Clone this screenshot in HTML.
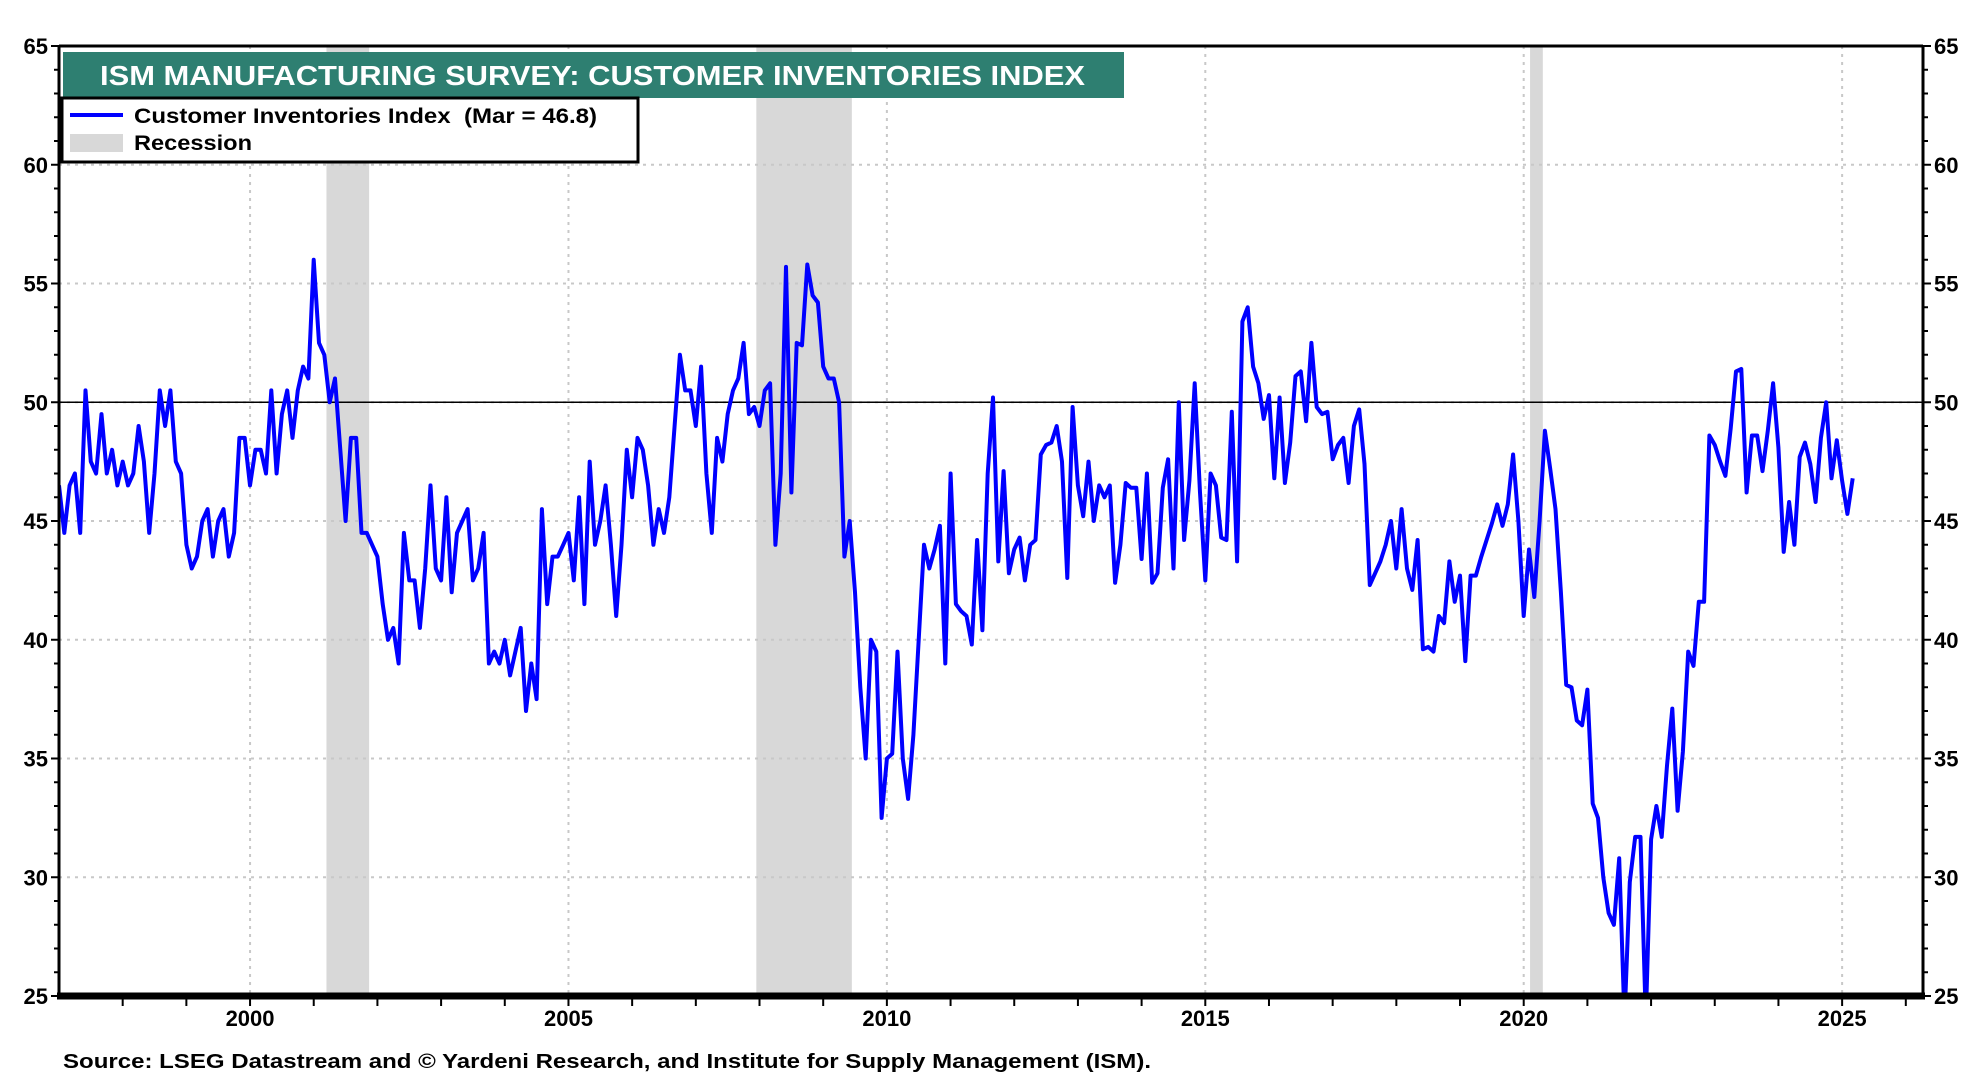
<!DOCTYPE html>
<html><head><meta charset="utf-8"><style>
html,body{margin:0;padding:0;background:#fff;}
svg{display:block;font-family:"Liberation Sans",Arial,sans-serif;}
</style></head><body>
<svg id="chart" width="1980" height="1080" viewBox="0 0 1980 1080" xmlns="http://www.w3.org/2000/svg">
<defs><clipPath id="plotclip"><rect x="59" y="46" width="1864" height="950"/></clipPath></defs>
<g id="recessions"></g>
<g id="grid"></g>
<line id="ref50" x1="59" x2="1923" stroke="#000" stroke-width="1.5"/>
<g id="series" clip-path="url(#plotclip)"></g>
<g id="axes"></g>
<g>
<rect x="63" y="52" width="1061" height="46" fill="#2e7f71"/>
<text x="100" y="85" fill="#fff" font-size="28" font-weight="bold" textLength="985" lengthAdjust="spacingAndGlyphs">ISM MANUFACTURING SURVEY: CUSTOMER INVENTORIES INDEX</text>
</g>
<g>
<rect x="62" y="98" width="576" height="64" fill="#fff" stroke="#000" stroke-width="3"/>
<g>
<line x1="70" x2="123" y1="115" y2="115" stroke="#0000ff" stroke-width="4"/>
<text x="134" y="123" font-size="21" font-weight="bold" textLength="463" lengthAdjust="spacingAndGlyphs">Customer Inventories Index &#160;(Mar = 46.8)</text>
</g>
<g>
<rect x="70" y="134" width="53" height="18" fill="#d8d8d8"/>
<text x="134" y="150" font-size="21" font-weight="bold" textLength="118" lengthAdjust="spacingAndGlyphs">Recession</text>
</g>
</g>
<text x="63" y="1068" font-size="20" font-weight="bold" textLength="1088" lengthAdjust="spacingAndGlyphs">Source: LSEG Datastream and © Yardeni Research, and Institute for Supply Management (ISM).</text>
</svg>
<script>
const years=[1997,1998,1999,2000,2001,2002,2003,2004,2005,2006,2007,2008,2009,2010,2011,2012,2013,2014,2015,2016,2017,2018,2019,2020,2021,2022,2023,2024,2025];
const v1997=[46.5,44.5,46.5,47,44.5,50.5,47.5,47,49.5,47,48,46.5];
const v1998=[47.5,46.5,47,49,47.5,44.5,47,50.5,49,50.5,47.5,47];
const v1999=[44,43,43.5,45,45.5,43.5,45,45.5,43.5,44.5,48.5,48.5];
const v2000=[46.5,48,48,47,50.5,47,49.5,50.5,48.5,50.5,51.5,51];
const v2001=[56,52.5,52,50,51,48,45,48.5,48.5,44.5,44.5,44];
const v2002=[43.5,41.5,40,40.5,39,44.5,42.5,42.5,40.5,43,46.5,43];
const v2003=[42.5,46,42,44.5,45,45.5,42.5,43,44.5,39,39.5,39];
const v2004=[40,38.5,39.5,40.5,37,39,37.5,45.5,41.5,43.5,43.5,44];
const v2005=[44.5,42.5,46,41.5,47.5,44,45,46.5,44,41,44,48];
const v2006=[46,48.5,48,46.5,44,45.5,44.5,46,49,52,50.5,50.5];
const v2007=[49,51.5,47,44.5,48.5,47.5,49.5,50.5,51,52.5,49.5,49.8];
const v2008=[49,50.5,50.8,44,47,55.7,46.2,52.5,52.4,55.8,54.5,54.2];
const v2009=[51.5,51,51,50,43.5,45,42,38,35,40,39.5,32.5];
const v2010=[35,35.2,39.5,35,33.3,36,40,44,43,43.8,44.8,39];
const v2011=[47,41.5,41.2,41,39.8,44.2,40.4,47,50.2,43.3,47.1,42.8];
const v2012=[43.8,44.3,42.5,44,44.2,47.8,48.2,48.3,49,47.5,42.6,49.8];
const v2013=[46.5,45.2,47.5,45,46.5,46,46.5,42.4,44,46.6,46.4,46.4];
const v2014=[43.4,47,42.4,42.8,46.4,47.6,43,50,44.2,46.7,50.8,46.2];
const v2015=[42.5,47,46.5,44.3,44.2,49.6,43.3,53.4,54,51.5,50.8,49.3];
const v2016=[50.3,46.8,50.2,46.6,48.3,51.1,51.3,49.2,52.5,49.8,49.5,49.6];
const v2017=[47.6,48.2,48.5,46.6,49,49.7,47.4,42.3,42.8,43.3,44,45];
const v2018=[43,45.5,43,42.1,44.2,39.6,39.7,39.5,41,40.7,43.3,41.6];
const v2019=[42.7,39.1,42.7,42.7,43.5,44.2,44.9,45.7,44.8,45.7,47.8,45];
const v2020=[41,43.8,41.8,45,48.8,47.2,45.5,42,38.1,38,36.6,36.4];
const v2021=[37.9,33.1,32.5,30,28.5,28,30.8,24,29.8,31.7,31.7,24];
const v2022=[31.6,33,31.7,34.7,37.1,32.8,35.3,39.5,38.9,41.6,41.6,48.6];
const v2023=[48.2,47.5,46.9,48.9,51.3,51.4,46.2,48.6,48.6,47.1,48.8,50.8];
const v2024=[48.1,43.7,45.8,44,47.7,48.3,47.4,45.8,48.5,50,46.8,48.4];
const v2025=[46.7,45.3,46.8];
const recStart=[2001.2,2007.95,2020.1];
const recEnd=[2001.87,2009.45,2020.3];
const yTicks=[25,30,35,40,45,50,55,60,65];
const xLabels=[2000,2005,2010,2015,2020,2025];

const values=[].concat(v1997,v1998,v1999,v2000,v2001,v2002,v2003,v2004,v2005,v2006,v2007,v2008,v2009,v2010,v2011,v2012,v2013,v2014,v2015,v2016,v2017,v2018,v2019,v2020,v2021,v2022,v2023,v2024,v2025);
const X0=59,X1=1923,Y0=46,Y1=996,T0=1997,T1=2026.27,V0=25,V1=65;
function xs(t){return X0+(t-T0)/(T1-T0)*(X1-X0);}
function ys(v){return Y1-(v-V0)/(V1-V0)*(Y1-Y0);}
const NS="http://www.w3.org/2000/svg";
function mk(tag,attrs,parent){const e=document.createElementNS(NS,tag);for(const k in attrs)e.setAttribute(k,attrs[k]);parent.appendChild(e);return e;}
const rec=document.getElementById('recessions');
for(let i=0;i<recStart.length;i++){
 const r=mk('rect',{x:xs(recStart[i]),y:Y0,width:xs(recEnd[i])-xs(recStart[i]),height:Y1-Y0,fill:'#d8d8d8'},rec);
 
 
}
const grid=document.getElementById('grid');
yTicks.forEach(v=>{if(v>V0&&v<V1){const l=mk('line',{x1:X0,x2:X1,y1:ys(v),y2:ys(v),stroke:'#c8c8c8','stroke-width':2,'stroke-dasharray':'3,5'},grid);
 
 }});
xLabels.forEach(t=>{const l=mk('line',{x1:xs(t),x2:xs(t),y1:Y0,y2:Y1,stroke:'#c8c8c8','stroke-width':2,'stroke-dasharray':'3,5'},grid);
 
 });
const r50=document.getElementById('ref50');r50.setAttribute('y1',ys(50));r50.setAttribute('y2',ys(50));
const pts=values.map((v,i)=>xs(T0+i/12).toFixed(1)+','+ys(v).toFixed(1)).join(' ');
const pl=mk('polyline',{points:pts,fill:'none',stroke:'#0000ff','stroke-width':4,'stroke-linejoin':'round'},document.getElementById('series'));


const ax=document.getElementById('axes');
mk('line',{x1:X0,x2:X1,y1:Y0,y2:Y0,stroke:'#000','stroke-width':3},ax);
mk('line',{x1:X0,x2:X0,y1:Y0,y2:Y1,stroke:'#000','stroke-width':3},ax);
mk('line',{x1:X1,x2:X1,y1:Y0,y2:Y1,stroke:'#000','stroke-width':3},ax);
mk('line',{x1:X0-2,x2:X1+2,y1:Y1,y2:Y1,stroke:'#000','stroke-width':7},ax);
for(let v=V0;v<=V1;v++){
 const len=(v%5===0)?8:5;
 mk('line',{x1:X0-len,x2:X0,y1:ys(v),y2:ys(v),stroke:'#000','stroke-width':2},ax);
 mk('line',{x1:X1,x2:X1+len,y1:ys(v),y2:ys(v),stroke:'#000','stroke-width':2},ax);
}
yTicks.forEach(v=>{
 const a=mk('text',{x:X0-11,y:ys(v)+8,'text-anchor':'end','font-size':22,'font-weight':'bold'},ax);a.textContent=v;
 
 
 const b=mk('text',{x:X1+11,y:ys(v)+8,'text-anchor':'start','font-size':22,'font-weight':'bold'},ax);b.textContent=v;
 
 
});
for(let t=1998;t<=2026;t++){mk('line',{x1:xs(t),x2:xs(t),y1:Y1,y2:Y1+10,stroke:'#000','stroke-width':2},ax);}
xLabels.forEach(t=>{const a=mk('text',{x:xs(t),y:1026,'text-anchor':'middle','font-size':22,'font-weight':'bold'},ax);a.textContent=t;
 
 });
</script>
</body></html>
